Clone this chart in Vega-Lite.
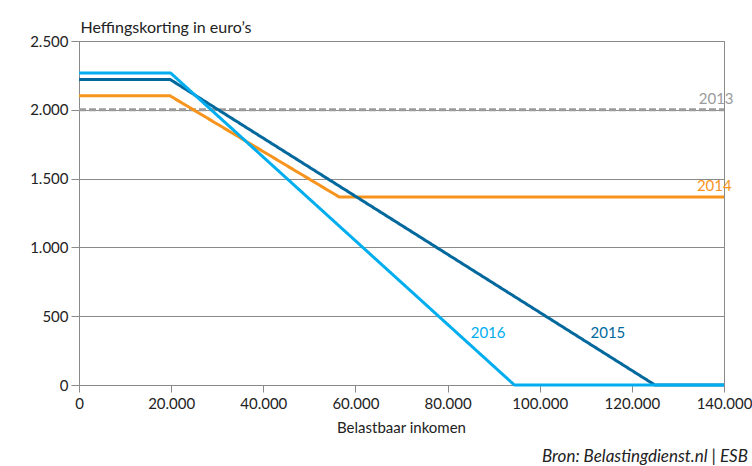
{
  "$schema": "https://vega.github.io/schema/vega-lite/v6.json",
  "width": 645,
  "height": 344,
  "autosize": "none",
  "padding": {"left": 79, "top": 41, "right": 28, "bottom": 81},
  "background": "white",
  "config": {
    "font": "Lato",
    "locale": {"number": {"decimal": ",", "thousands": ".", "grouping": [3], "currency": ["€", ""]}},
    "view": {"stroke": "#8a8a8a", "strokeWidth": 1}
  },
  "title": {
    "text": "Bron: Belastingdienst.nl | ESB",
    "orient": "bottom",
    "anchor": "end",
    "frame": "group",
    "dx": 24,
    "offset": 14,
    "font": "Lato",
    "fontSize": 17,
    "fontStyle": "italic",
    "fontWeight": "normal",
    "color": "#222222"
  },
  "datasets": {
    "lines": [
      {"jaar": "2013", "inkomen": 0, "korting": 2000},
      {"jaar": "2013", "inkomen": 140000, "korting": 2000},
      {"jaar": "2014", "inkomen": 0, "korting": 2103},
      {"jaar": "2014", "inkomen": 19700, "korting": 2103},
      {"jaar": "2014", "inkomen": 56500, "korting": 1366},
      {"jaar": "2014", "inkomen": 140000, "korting": 1366},
      {"jaar": "2015", "inkomen": 0, "korting": 2220},
      {"jaar": "2015", "inkomen": 19800, "korting": 2220},
      {"jaar": "2015", "inkomen": 125000, "korting": 0},
      {"jaar": "2015", "inkomen": 140000, "korting": 0},
      {"jaar": "2016", "inkomen": 0, "korting": 2267},
      {"jaar": "2016", "inkomen": 19900, "korting": 2267},
      {"jaar": "2016", "inkomen": 94500, "korting": 0},
      {"jaar": "2016", "inkomen": 140000, "korting": 0}
    ],
    "labels": [
      {"jaar": "2013", "inkomen": 138300, "korting": 2045, "align": "right"},
      {"jaar": "2014", "inkomen": 137900, "korting": 1410, "align": "right"},
      {"jaar": "2015", "inkomen": 114800, "korting": 340, "align": "center"},
      {"jaar": "2016", "inkomen": 88800, "korting": 340, "align": "center"}
    ]
  },
  "layer": [
    {
      "data": {"name": "lines"},
      "mark": {"type": "line", "strokeWidth": 3, "strokeJoin": "round", "clip": false},
      "encoding": {
        "x": {
          "field": "inkomen",
          "type": "quantitative",
          "scale": {"domain": [0, 140000], "nice": false},
          "axis": {
            "values": [0, 20000, 40000, 60000, 80000, 100000, 120000, 140000],
            "format": ",d",
            "title": "Belastbaar inkomen",
            "titleX": 322,
            "titlePadding": 9,
            "titleFont": "Lato",
            "titleFontSize": 15,
            "titleFontWeight": "normal",
            "titleColor": "#222222",
            "labelFont": "Lato",
            "labelFontSize": 15,
            "labelColor": "#222222",
            "labelPadding": 4,
            "labelFlush": false,
            "grid": false,
            "domainColor": "#8a8a8a",
            "tickColor": "#8a8a8a",
            "tickSize": 7
          }
        },
        "y": {
          "field": "korting",
          "type": "quantitative",
          "scale": {"domain": [0, 2500], "nice": false},
          "axis": {
            "values": [0, 500, 1000, 1500, 2000, 2500],
            "format": ",d",
            "title": "Heffingskorting in euro’s",
            "titleAngle": 0,
            "titleAlign": "left",
            "titleBaseline": "alphabetic",
            "titleX": 1,
            "titleY": -9,
            "titleFont": "Lato",
            "titleFontSize": 16,
            "titleFontWeight": "normal",
            "titleColor": "#222222",
            "labelFont": "Lato",
            "labelFontSize": 15,
            "labelColor": "#222222",
            "labelPadding": 3,
            "grid": true,
            "gridColor": "#8a8a8a",
            "gridWidth": 1,
            "domainColor": "#8a8a8a",
            "tickColor": "#8a8a8a",
            "tickSize": 8
          }
        },
        "color": {
          "field": "jaar",
          "type": "nominal",
          "scale": {"domain": ["2013", "2014", "2015", "2016"], "range": ["#9b9b9b", "#f7941d", "#00689d", "#00aeef"]},
          "legend": null
        },
        "strokeDash": {
          "field": "jaar",
          "type": "nominal",
          "scale": {"domain": ["2013", "2014", "2015", "2016"], "range": [[7, 3], [1, 0], [1, 0], [1, 0]]},
          "legend": null
        },
        "order": {"field": "inkomen", "type": "quantitative"}
      }
    },
    {
      "data": {"name": "labels"},
      "mark": {"type": "text", "fontSize": 15, "font": "Lato", "baseline": "alphabetic"},
      "encoding": {
        "x": {"field": "inkomen", "type": "quantitative"},
        "y": {"field": "korting", "type": "quantitative"},
        "text": {"field": "jaar"},
        "align": {"field": "align", "type": "nominal", "scale": null},
        "color": {"field": "jaar", "type": "nominal", "legend": null}
      }
    }
  ]
}
